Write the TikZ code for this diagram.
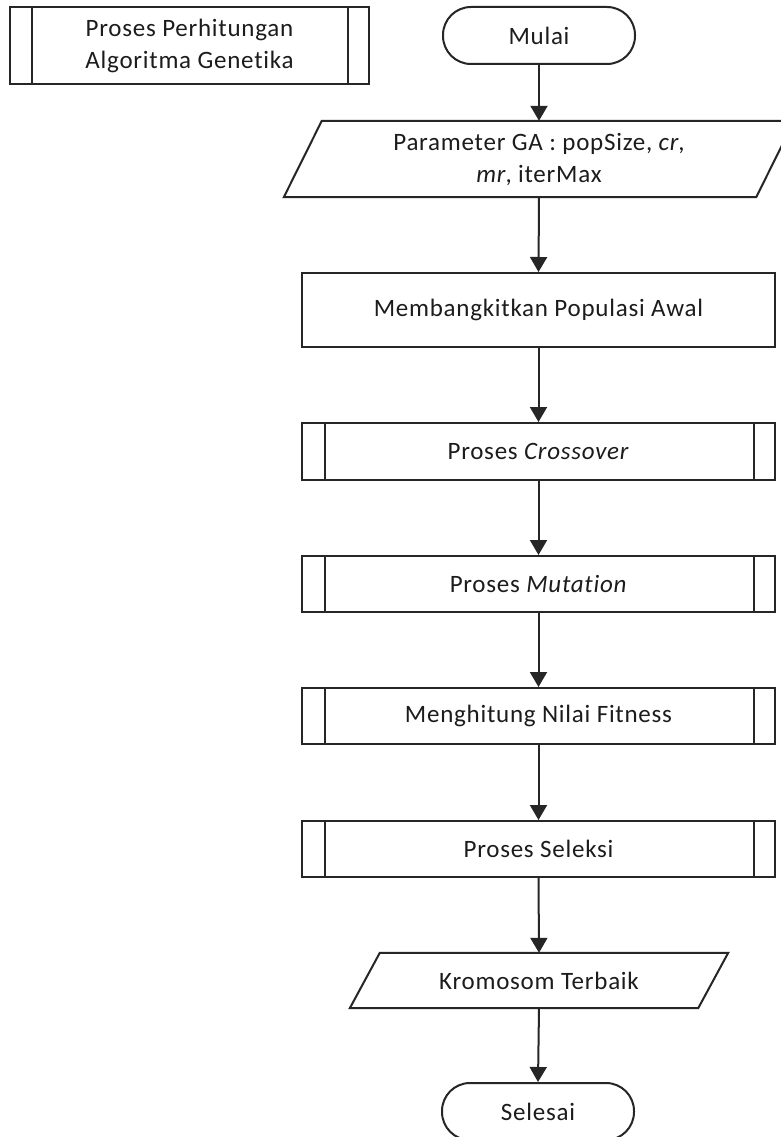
\documentclass[tikz,border=0pt]{standalone}
\usepackage{fontspec}
\setmainfont{Carlito}[LetterSpace=3, Ligatures=NoCommon]
\usetikzlibrary{arrows.meta,calc}
\definecolor{ink}{HTML}{1C1C1C}
\definecolor{edge}{HTML}{262626}
\begin{document}
\begin{tikzpicture}[x=1pt,y=-1pt,
  every node/.style={font=\fontsize{25}{32}\selectfont, align=center,
    inner sep=0pt, text=ink},
  line/.style={draw=edge, line width=2pt},
  terminal/.style={line, rectangle, rounded corners=28pt,
    minimum width=192pt, minimum height=57pt},
  procbox/.style={line, rectangle, minimum width=473pt, minimum height=74pt},
  subproc/.style={line, rectangle, minimum width=473pt, minimum height=57pt},
  iobox/.style={rectangle, minimum height=#1},
  flow/.style={line, -{Triangle[length=15pt,width=17pt]}}]

  \useasboundingbox (0,0) rectangle (781,1137);
  \fill[white] (0,0) rectangle (781,1137);
  \clip (0,0) rectangle (781,1137);

  % title block (predefined process)
  \node[line, rectangle, minimum width=359pt, minimum height=77pt] (title)
    at (189.5,45.5) {Proses Perhitungan\\Algoritma Genetika};
  \draw[line] ($(title.north west)+(23,0)$) -- ($(title.south west)+(23,0)$)
              ($(title.north east)+(-22,0)$) -- ($(title.south east)+(-22,0)$);

  % flowchart column
  \node[terminal] (mulai) at (539,35.5) {Mulai};
  \node[iobox=76pt, minimum width=472pt] (param) at (539,159)
    {Parameter GA : popSize, \textit{cr},\\\textit{mr}, iterMax};
  \node[procbox] (init) at (538.5,310) {Membangkitkan Populasi Awal};
  \node[subproc] (cross) at (538.5,451.5) {Proses \textit{Crossover}};
  \node[subproc, minimum height=56pt] (mut) at (538.5,584) {Proses \textit{Mutation}};
  \node[subproc, minimum height=56pt] (fit) at (538.5,716) {Menghitung Nilai Fitness};
  \node[subproc, minimum height=56pt] (sel) at (538.5,849) {Proses Seleksi};
  \node[iobox=55pt, minimum width=348pt] (best) at (539,980.5) {Kromosom Terbaik};
  \node[terminal] (selesai) at (538,1111.5) {Selesai};

  % parallelogram outlines of the data nodes
  \draw[line] ($(param.north west)+(19,0)$) -- ($(param.north east)+(19,0)$)
    -- ($(param.south east)+(-19,0)$) -- ($(param.south west)+(-19,0)$) -- cycle;
  \draw[line] ($(best.north west)+(15,0)$) -- ($(best.north east)+(15,0)$)
    -- ($(best.south east)+(-15,0)$) -- ($(best.south west)+(-15,0)$) -- cycle;

  % inner bars of the subprocess boxes
  \foreach \n in {cross,mut,fit,sel}{
    \draw[line] ($(\n.north west)+(24,0)$) -- ($(\n.south west)+(24,0)$)
                ($(\n.north east)+(-22,0)$) -- ($(\n.south east)+(-22,0)$);
  }

  % connectors
  \draw[flow] (mulai.south) -- (param.north);
  \draw[flow] (param.south) -- (init.north);
  \draw[flow] (init.south) -- (cross.north);
  \draw[flow] (cross.south) -- (mut.north);
  \draw[flow] (mut.south) -- (fit.north);
  \draw[flow] (fit.south) -- (sel.north);
  \draw[flow] (sel.south) -- (best.north);
  \draw[flow] (best.south) -- (selesai.north);
\end{tikzpicture}
\end{document}
